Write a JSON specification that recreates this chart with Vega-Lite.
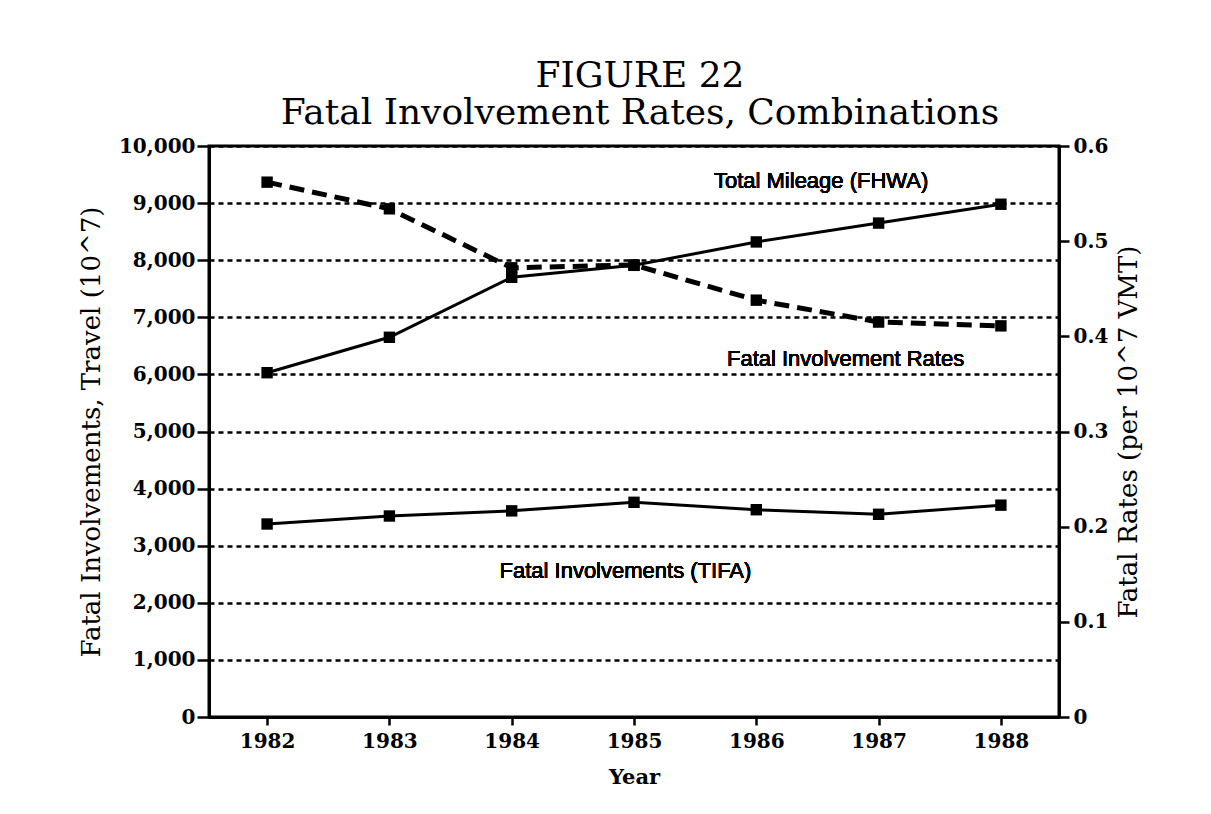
{
  "$schema": "https://vega.github.io/schema/vega-lite/v6.json",
  "width": 850,
  "height": 571,
  "autosize": {"type": "none"},
  "padding": {"left": 209, "top": 146, "right": 152, "bottom": 97},
  "background": "white",
  "title": {
    "text": ["FIGURE 22", "Fatal Involvement Rates, Combinations"],
    "font": "DejaVu Serif",
    "fontSize": 36,
    "fontWeight": "normal",
    "lineHeight": 37,
    "color": "black",
    "anchor": "middle",
    "frame": "group",
    "offset": 4,
    "dx": 6
  },
  "config": {
    "view": {"stroke": "black", "strokeWidth": 3},
    "axis": {
      "domainColor": "black",
      "domainWidth": 3,
      "tickColor": "black",
      "tickWidth": 2.5,
      "labelFont": "DejaVu Serif",
      "labelFontWeight": "bold",
      "labelFontSize": 20,
      "labelColor": "black",
      "titleFont": "DejaVu Serif",
      "titleColor": "black"
    }
  },
  "data": {
    "values": [
      {"year": 1982, "mileage": 6030, "tifa": 3380, "rate": 0.562},
      {"year": 1983, "mileage": 6650, "tifa": 3520, "rate": 0.534},
      {"year": 1984, "mileage": 7700, "tifa": 3610, "rate": 0.472},
      {"year": 1985, "mileage": 7910, "tifa": 3760, "rate": 0.475},
      {"year": 1986, "mileage": 8320, "tifa": 3630, "rate": 0.438},
      {"year": 1987, "mileage": 8650, "tifa": 3550, "rate": 0.415},
      {"year": 1988, "mileage": 8980, "tifa": 3710, "rate": 0.411}
    ]
  },
  "encoding": {
    "x": {
      "field": "year",
      "type": "quantitative",
      "scale": {"domain": [1981.525, 1988.475], "nice": false, "zero": false},
      "axis": {
        "values": [1982, 1983, 1984, 1985, 1986, 1987, 1988],
        "format": "d",
        "grid": false,
        "tickSize": 8,
        "labelPadding": 6,
        "title": "Year",
        "titleFontSize": 21,
        "titleFontWeight": "bold",
        "titlePadding": 15
      }
    }
  },
  "layer": [
    {
      "layer": [
        {
          "mark": {"type": "line", "color": "black", "strokeWidth": 3,
                   "point": {"shape": "square", "size": 130, "filled": true, "color": "black", "opacity": 1}},
          "encoding": {
            "y": {
              "field": "mileage",
              "type": "quantitative",
              "scale": {"domain": [0, 10000], "nice": false},
              "axis": {
                "orient": "left",
                "values": [0, 1000, 2000, 3000, 4000, 5000, 6000, 7000, 8000, 9000, 10000],
                "format": ",.0f",
                "grid": true,
                "gridColor": "black",
                "gridDash": [5, 4],
                "gridWidth": 2.5,
                "gridOpacity": 1,
                "tickSize": 12,
                "labelPadding": 2,
                "title": "Fatal Involvements, Travel (10^7)",
                "titleFontSize": 26,
                "titleFontWeight": "normal",
                "titlePadding": 14
              }
            }
          }
        },
        {
          "mark": {"type": "line", "color": "black", "strokeWidth": 3,
                   "point": {"shape": "square", "size": 130, "filled": true, "color": "black", "opacity": 1}},
          "encoding": {"y": {"field": "tifa", "type": "quantitative"}}
        },
        {
          "mark": {"type": "text", "text": "Total Mileage (FHWA)", "font": "Liberation Sans", "fontSize": 22, "letterSpacing": -0.8, "color": "black", "align": "center", "baseline": "middle"},
          "encoding": {"x": {"datum": 1986.53}, "y": {"datum": 9390}}
        },
        {
          "mark": {"type": "text", "text": "Fatal Involvement Rates", "font": "Liberation Sans", "fontSize": 22, "letterSpacing": -0.8, "color": "black", "align": "center", "baseline": "middle"},
          "encoding": {"x": {"datum": 1986.73}, "y": {"datum": 6270}}
        },
        {
          "mark": {"type": "text", "text": "Fatal Involvements (TIFA)", "font": "Liberation Sans", "fontSize": 22, "letterSpacing": -0.8, "color": "black", "align": "center", "baseline": "middle"},
          "encoding": {"x": {"datum": 1984.93}, "y": {"datum": 2560}}
        }
      ]
    },
    {
      "mark": {"type": "line", "color": "black", "strokeWidth": 5, "strokeDash": [15, 8],
               "point": {"shape": "square", "size": 130, "filled": true, "color": "black", "opacity": 1}},
      "encoding": {
        "y": {
          "field": "rate",
          "type": "quantitative",
          "scale": {"domain": [0, 0.6], "nice": false},
          "axis": {
            "orient": "right",
            "values": [0, 0.1, 0.2, 0.3, 0.4, 0.5, 0.6],
            "format": ".1~f",
            "grid": false,
            "tickSize": 10,
            "labelPadding": 4,
            "title": "Fatal Rates (per 10^7 VMT)",
            "titleFontSize": 26,
            "titleFontWeight": "normal",
            "titleAngle": 270,
            "titleBaseline": "top",
            "titlePadding": 8
          }
        }
      }
    }
  ],
  "resolve": {"scale": {"y": "independent"}}
}
